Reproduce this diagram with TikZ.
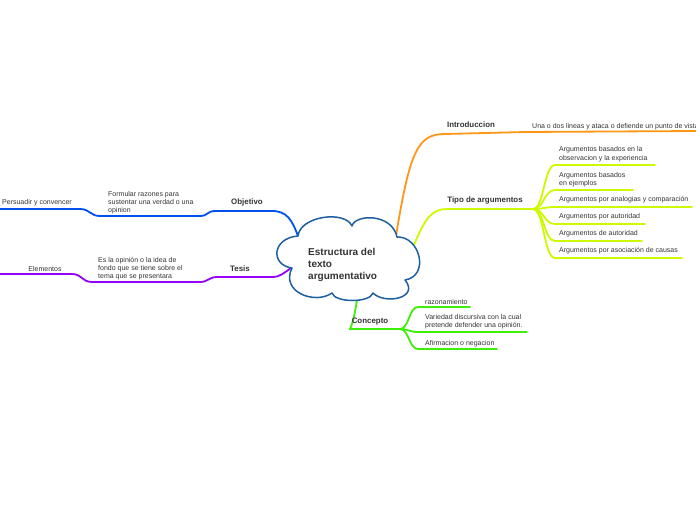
\documentclass[tikz,border=0pt]{standalone}
\usepackage{fontspec}
\setmainfont{Liberation Sans}
\definecolor{txt}{RGB}{51,51,51}
\definecolor{corange}{RGB}{255,150,20}
\definecolor{cyell}{RGB}{204,250,0}
\definecolor{cgreen}{RGB}{60,240,10}
\definecolor{cblue}{RGB}{0,80,240}
\definecolor{cpurp}{RGB}{150,0,250}
\definecolor{ccloud}{RGB}{30,95,160}
\begin{document}
\begin{tikzpicture}[x=1pt,y=-1pt,
  br/.style={line width=1.8pt, line cap=round},
  leaf/.style={font=\fontsize{7}{8.3}\selectfont, text=txt, inner sep=0pt, anchor=west, align=left},
  lbl/.style={font=\bfseries\fontsize{7.9}{9}\selectfont, text=txt, inner sep=0pt}]
\useasboundingbox (0,0) rectangle (696,520);

% ---------- connector coordinates ----------
\coordinate (oA) at (396,236); \coordinate (oB) at (445,134);
\coordinate (oC) at (525,132); \coordinate (oD) at (696,131);

\coordinate (yA) at (414,245); \coordinate (yB) at (447,209); \coordinate (yC) at (533,209);
\coordinate (t1s) at (555,165); \coordinate (t1e) at (655,165);
\coordinate (t2s) at (555,190); \coordinate (t2e) at (633,190);
\coordinate (t3s) at (555,207); \coordinate (t3e) at (692,207);
\coordinate (t4s) at (555,224); \coordinate (t4e) at (645,224);
\coordinate (t5s) at (555,241); \coordinate (t5e) at (642,241);
\coordinate (t6s) at (555,258); \coordinate (t6e) at (682,258);

\coordinate (gA) at (357,299); \coordinate (gB) at (350,329); \coordinate (gC) at (400,329);
\coordinate (c1s) at (418,307); \coordinate (c1e) at (470,307);
\coordinate (c2s) at (418,332); \coordinate (c2e) at (527,332);
\coordinate (c3s) at (418,349); \coordinate (c3e) at (497,349);

\coordinate (bA) at (298,236); \coordinate (bB) at (272,211); \coordinate (bC) at (215,211);
\coordinate (bD) at (200,216); \coordinate (bE) at (100,216); \coordinate (bF) at (80,209);
\coordinate (bG) at (0,209);

\coordinate (pA) at (291,268); \coordinate (pB) at (272,277); \coordinate (pC) at (217,277);
\coordinate (pD) at (200,282); \coordinate (pE) at (92,282); \coordinate (pF) at (72,274);
\coordinate (pG) at (0,274);

% ---------- branches ----------
\draw[br,corange] (oA) .. controls (410,150) and (418,134) .. (oB) -- (oC) -- (oD);

\draw[br,cyell] (yA) .. controls (425,218) and (432,209) .. (yB) -- (yC);
\foreach \s/\e/\yy in {t1s/t1e/165,t2s/t2e/190,t3s/t3e/207,t4s/t4e/224,t5s/t5e/241,t6s/t6e/258}
  \draw[br,cyell] (yC) .. controls (544,209) and (544,\yy) .. (\s) -- (\e);

\draw[br,cgreen] (gA) .. controls (355,315) and (352,325) .. (gB) -- (gC);
\foreach \s/\e/\yy in {c1s/c1e/307,c2s/c2e/332,c3s/c3e/349}
  \draw[br,cgreen] (gC) .. controls (409,329) and (409,\yy) .. (\s) -- (\e);

\draw[br,cblue] (bA) .. controls (292,220) and (287,211) .. (bB) -- (bC)
  .. controls (207,211) and (208,216) .. (bD) -- (bE)
  .. controls (90,216) and (90,209) .. (bF) -- (bG);

\draw[br,cpurp] (pA) .. controls (284,273) and (280,277) .. (pB) -- (pC)
  .. controls (209,277) and (208,282) .. (pD) -- (pE)
  .. controls (82,282) and (82,274) .. (pF) -- (pG);

% ---------- cloud ----------
\coordinate (P1) at (298,236); \coordinate (P2) at (352,226); \coordinate (P3) at (397,237);
\coordinate (P4) at (405,280); \coordinate (P5) at (373,293); \coordinate (P6) at (332,293);
\coordinate (P7) at (292,268);
\draw[line width=1.5pt, ccloud, fill=white, line join=round]
  (P1) .. controls (300,216) and (345,210) .. (P2)
       .. controls (355,214) and (392,213) .. (P3)
       .. controls (420,236) and (430,276) .. (P4)
       .. controls (420,298) and (385,305) .. (P5)
       .. controls (370,303) and (335,303) .. (P6)
       .. controls (315,305) and (280,292) .. (P7)
       .. controls (270,265) and (272,238) .. (P1) -- cycle;

\node[font=\bfseries\fontsize{10}{12}\selectfont, text=txt, anchor=west, align=left, inner sep=0pt]
  (title) at (308,265) {Estructura del\\texto\\argumentativo};

% ---------- labels ----------
\node[lbl] (intro) at (471,125) {Introduccion};
\node[leaf] (intro1) at (532,127) {Una o dos lineas y ataca o defiende un punto de vista};
\node[lbl] (tipo) at (485,200) {Tipo de argumentos};
\node[leaf] (t1) at (559,154.3) {Argumentos basados en la\\observacion y la experiencia};
\node[leaf] (t2) at (559,180) {Argumentos basados\\en ejemplos};
\node[leaf] (t3) at (559,200) {Argumentos por analogias y comparación};
\node[leaf] (t4) at (559,217) {Argumentos por autoridad};
\node[leaf] (t5) at (559,234) {Argumentos de autoridad};
\node[leaf] (t6) at (559,251) {Argumentos por asociación de causas};

\node[lbl] (conc) at (370,321.5) {Concepto};
\node[leaf] (c1) at (425,301.5) {razonamiento};
\node[leaf] (c2) at (425,321.7) {Variedad discursiva con la cual\\pretende defender una opinión.};
\node[leaf] (c3) at (425,343.3) {Afirmacion o negacion};

\node[lbl] (obj) at (247,202.5) {Objetivo};
\node[leaf] (obj1) at (108,202.5) {Formular razones para\\sustentar una verdad o una\\opinion};
\node[leaf] (obj2) at (2,202.5) {Persuadir y convencer};

\node[lbl] (tesis) at (240,268.5) {Tesis};
\node[leaf] (tes1) at (98,268.8) {Es la opinión o la idea de\\fondo que se tiene sobre el\\tema que se presentara};
\node[leaf, anchor=center] (tes2) at (45,269) {Elementos};
\end{tikzpicture}
\end{document}
